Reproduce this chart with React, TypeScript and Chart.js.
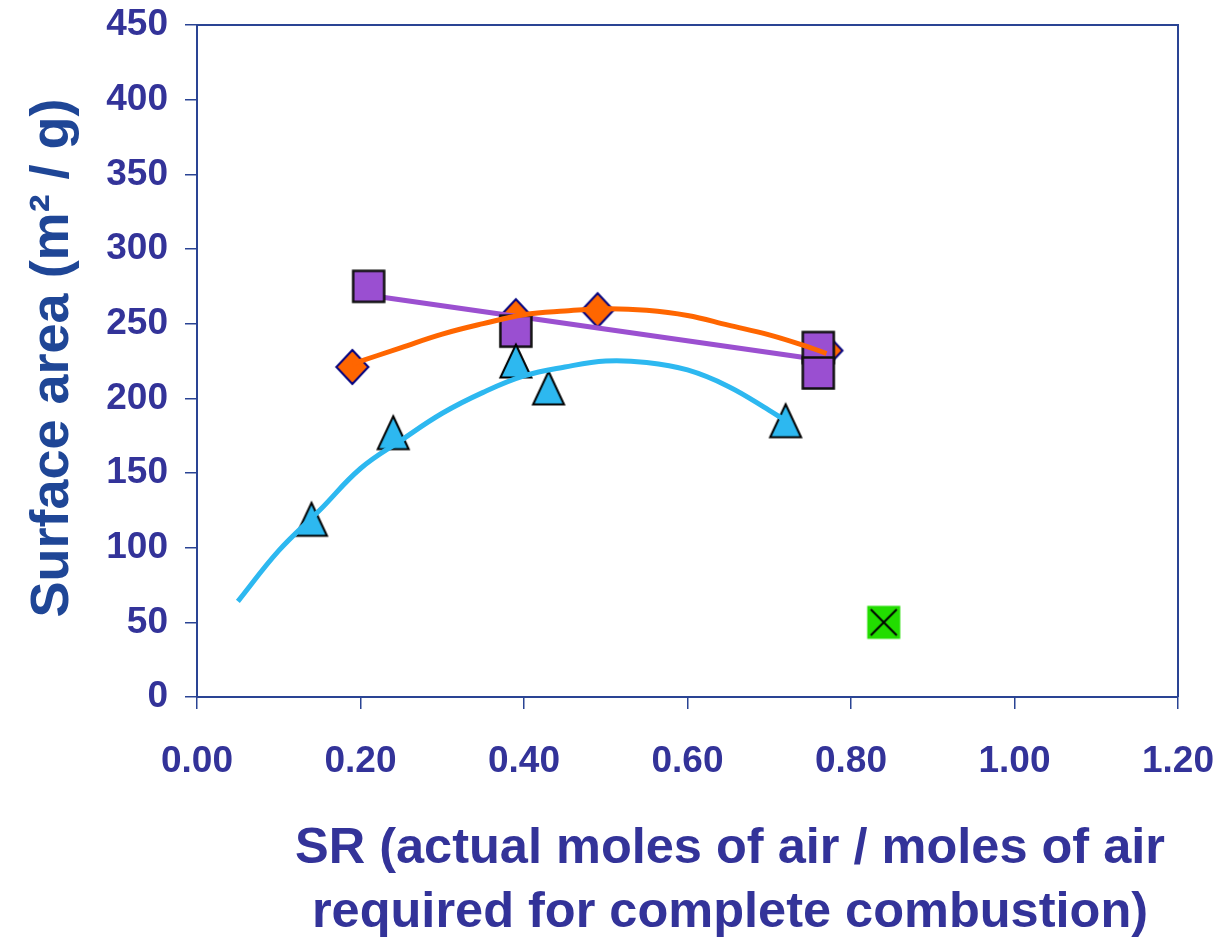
import { useEffect, useRef } from 'react';
import { Chart, registerables } from 'chart.js';

Chart.register(...registerables);

// Measured samples
const triangleSR = [0.14, 0.24, 0.39, 0.43, 0.72];
const triangleArea = [119, 177, 225, 207, 185];

const diamondSR = [0.19, 0.39, 0.49, 0.77];
const diamondArea = [221, 255, 259, 232];

const squareSR = [0.21, 0.39, 0.76, 0.76];
const squareArea = [275, 245, 234, 217];

const crossSR = [0.84];
const crossArea = [50];

// Trend curves through each series
const cyanFitSR = [0.05, 0.1, 0.15, 0.2, 0.25, 0.3, 0.35, 0.4, 0.45, 0.5, 0.55, 0.6, 0.65, 0.7, 0.72];
const cyanFitArea = [64, 98, 125, 153, 172, 190, 204, 215, 221, 225, 224, 219, 208, 192, 185];

const orangeFitSR = [0.19, 0.25, 0.3, 0.35, 0.4, 0.45, 0.5, 0.55, 0.6, 0.65, 0.7, 0.75, 0.77];
const orangeFitArea = [223, 234, 243, 250, 256, 258.5, 260, 259, 255.5, 249, 242.5, 234, 230];

const purpleFitSR = [0.21, 0.76];
const purpleFitArea = [269, 226];

// Axis ranges and labels
const xMin = 0;
const xMax = 1.2;
const xStep = 0.2;
const yMin = 0;
const yMax = 450;
const yStep = 50;
const yTitle = 'Surface area (m\u00B2 / g)';
const xTitleLines = ['SR (actual moles of air / moles of air', 'required for complete combustion)'];

const AXIS = '#2A4494';
const TICK_TEXT = '#333399';
const FONT = '"Liberation Sans", Arial, sans-serif';

const pts = (xs: number[], ys: number[]) => xs.map((x, i) => ({ x, y: ys[i] }));

function marker(kind: 'triangle' | 'diamond' | 'square' | 'cross'): HTMLCanvasElement {
  const c = document.createElement('canvas');
  c.width = 40;
  c.height = 40;
  const g = c.getContext('2d')!;
  const cx = 20;
  const cy = 20;
  g.lineJoin = 'miter';
  if (kind === 'triangle') {
    g.beginPath();
    g.moveTo(cx, cy - 16.5);
    g.lineTo(cx + 15.5, cy + 16.5);
    g.lineTo(cx - 15.5, cy + 16.5);
    g.closePath();
    g.fillStyle = '#2DB8F0';
    g.fill();
    g.lineWidth = 2;
    g.strokeStyle = '#000000';
    g.stroke();
  } else if (kind === 'diamond') {
    g.beginPath();
    g.moveTo(cx, cy - 17);
    g.lineTo(cx + 16, cy);
    g.lineTo(cx, cy + 17);
    g.lineTo(cx - 16, cy);
    g.closePath();
    g.fillStyle = '#FF6600';
    g.fill();
    g.lineWidth = 2;
    g.strokeStyle = '#000080';
    g.stroke();
  } else if (kind === 'square') {
    g.fillStyle = '#9A4FD1';
    g.fillRect(cx - 15.5, cy - 15.5, 31, 31);
    g.lineWidth = 2.5;
    g.strokeStyle = '#111111';
    g.strokeRect(cx - 15.5, cy - 15.5, 31, 31);
  } else {
    g.fillStyle = '#22DD00';
    g.fillRect(cx - 16.5, cy - 16.5, 33, 33);
    g.beginPath();
    g.moveTo(cx - 13, cy - 13);
    g.lineTo(cx + 13, cy + 13);
    g.moveTo(cx + 13, cy - 13);
    g.lineTo(cx - 13, cy + 13);
    g.lineWidth = 2;
    g.strokeStyle = '#000000';
    g.stroke();
  }
  return c;
}

const frameAndTitles = {
  id: 'frameAndTitles',
  afterDraw(chart: any) {
    const { ctx, chartArea } = chart;
    const { left, right, top, bottom } = chartArea;
    ctx.save();
    // top and right edges of the plot box
    ctx.strokeStyle = AXIS;
    ctx.lineWidth = 2;
    ctx.beginPath();
    ctx.moveTo(left, top);
    ctx.lineTo(right, top);
    ctx.lineTo(right, bottom);
    ctx.stroke();

    // vertical axis title
    ctx.fillStyle = '#1F4696';
    ctx.font = `bold 54px ${FONT}`;
    ctx.textAlign = 'center';
    ctx.textBaseline = 'alphabetic';
    ctx.translate(68, 358);
    ctx.rotate(-Math.PI / 2);
    ctx.fillText(yTitle, 0, 0);
    ctx.restore();

    // horizontal axis title, two lines
    ctx.save();
    ctx.fillStyle = TICK_TEXT;
    ctx.font = `bold 50.5px ${FONT}`;
    ctx.textAlign = 'center';
    ctx.textBaseline = 'alphabetic';
    ctx.fillText(xTitleLines[0], 730, 863);
    ctx.fillText(xTitleLines[1], 730, 927);
    ctx.restore();
  },
};

export default function App() {
  const ref = useRef<HTMLCanvasElement>(null);

  useEffect(() => {
    document.body.style.margin = '0';
    const canvas = ref.current!;
    const tickFont = { family: FONT, size: 37, weight: 'bold' as const };

    const chart = new Chart(canvas, {
      type: 'scatter',
      data: {
        datasets: [
          {
            label: 'diamonds',
            data: pts(diamondSR, diamondArea),
            pointStyle: marker('diamond'),
            order: 7,
          },
          {
            label: 'purple fit',
            data: pts(purpleFitSR, purpleFitArea),
            showLine: true,
            borderColor: '#9B50D0',
            borderWidth: 5,
            pointRadius: 0,
            order: 6,
          },
          {
            label: 'squares',
            data: pts(squareSR, squareArea),
            pointStyle: marker('square'),
            order: 5,
          },
          {
            label: 'orange fit',
            data: pts(orangeFitSR, orangeFitArea),
            showLine: true,
            borderColor: '#FF6600',
            borderWidth: 5,
            pointRadius: 0,
            tension: 0.4,
            order: 4,
          },
          {
            label: 'triangles',
            data: pts(triangleSR, triangleArea),
            pointStyle: marker('triangle'),
            order: 3,
          },
          {
            label: 'cyan fit',
            data: pts(cyanFitSR, cyanFitArea),
            showLine: true,
            borderColor: '#2DB8F0',
            borderWidth: 5,
            pointRadius: 0,
            tension: 0.4,
            order: 2,
          },
          {
            label: 'cross',
            data: pts(crossSR, crossArea),
            pointStyle: marker('cross'),
            order: 1,
          },
        ],
      },
      options: {
        responsive: false,
        animation: false,
        devicePixelRatio: 1,
        layout: { padding: { left: 0, right: 43, top: 25, bottom: 0 } },
        plugins: {
          legend: { display: false },
          tooltip: { enabled: false },
        },
        events: [],
        scales: {
          x: {
            type: 'linear',
            min: xMin,
            max: xMax,
            afterFit: (s: any) => {
              s.height = 242;
              s.paddingLeft = 0;
              s.paddingRight = 0;
            },
            ticks: {
              stepSize: xStep,
              font: tickFont,
              color: TICK_TEXT,
              padding: 31,
              maxRotation: 0,
              callback: (v: any) => Number(v).toFixed(2),
            },
            grid: {
              drawOnChartArea: false,
              drawTicks: true,
              tickLength: 12,
              color: AXIS,
              lineWidth: 1.5,
            },
            border: { display: true, color: AXIS, width: 2 },
          },
          y: {
            type: 'linear',
            min: yMin,
            max: yMax,
            afterFit: (s: any) => {
              s.width = 197;
              s.paddingTop = 0;
              s.paddingBottom = 0;
            },
            ticks: {
              stepSize: yStep,
              font: tickFont,
              color: TICK_TEXT,
              padding: 17,
            },
            grid: {
              drawOnChartArea: false,
              drawTicks: true,
              tickLength: 12,
              color: AXIS,
              lineWidth: 1.5,
            },
            border: { display: true, color: AXIS, width: 2 },
          },
        },
      },
      plugins: [frameAndTitles],
    });

    return () => chart.destroy();
  }, []);

  return (
    <div style={{ width: 1221, height: 939 }}>
      <canvas ref={ref} width={1221} height={939} style={{ display: 'block' }} />
    </div>
  );
}
